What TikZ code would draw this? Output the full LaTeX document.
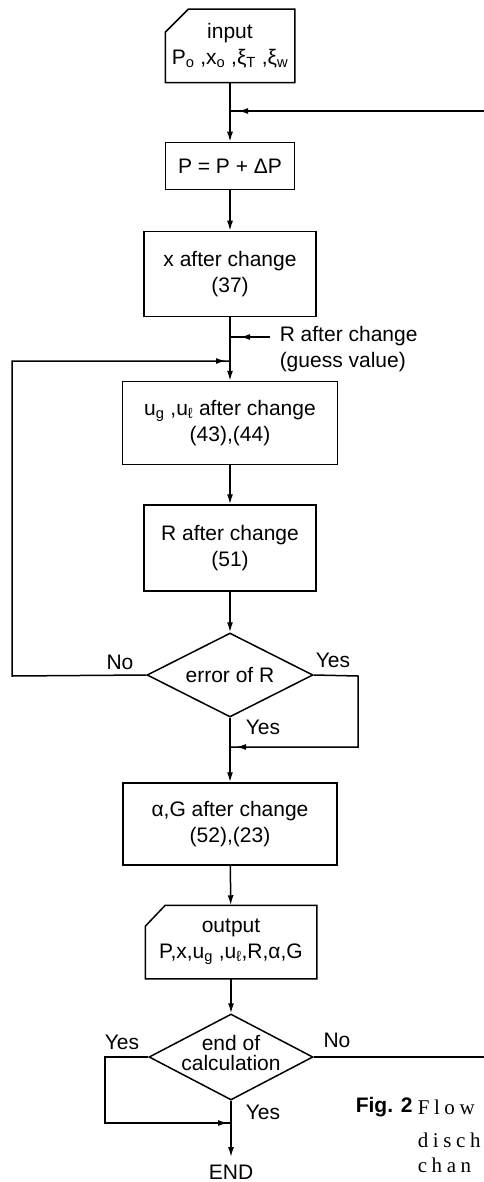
\documentclass[tikz,border=0pt]{standalone}
\usepackage{fontspec}
\setmainfont{Liberation Sans}
\newfontfamily\capserif[LetterSpace=22]{Liberation Serif}
\usetikzlibrary{arrows.meta,shapes.geometric,decorations.markings}

\begin{document}
\begin{tikzpicture}[x=1pt, y=-1pt, >={Latex[length=10pt,width=6pt]},
    line width=1.5pt,
    font=\fontsize{21}{26}\selectfont,
    box/.style={draw, rectangle, align=center, inner sep=0pt},
    iobox/.style={align=center, inner sep=0pt},
    test/.style={draw, diamond, inner sep=0pt},
    tag/.style={inner sep=0pt},
    tipat/.style={postaction={decorate},
        decoration={markings, mark=at position #1 with {\arrow{>}}}}]
    \clip (0,0) rectangle (484,1182);

    % input and step of P
    \node[iobox, minimum width=128pt, minimum height=72pt] (in) at (230,46)
        {input\\P\textsubscript{o} ,x\textsubscript{o} ,ξ\textsubscript{T} ,ξ\textsubscript{w}};
    \draw (in.south west) -- ([yshift=-23pt]in.north west) -- ([xshift=23pt]in.north west)
        -- (in.north east) -- (in.south east) -- cycle;
    \coordinate (j0) at (230,111);
    \node[box, minimum width=129pt, minimum height=47pt] (pp) at (230,166) {P = P + ΔP};
    \node[box, minimum width=172pt, minimum height=85pt] (xb) at (230,274) {x after change\\(37)};

    % inner loop on R
    \coordinate (j1) at (230,337);
    \coordinate (j2) at (230,361);
    \coordinate (gs) at (270,337);
    \node[tag, anchor=west, align=left] (gtxt) at (279,349) {R after change\\(guess value)};
    \node[box, minimum width=215pt, minimum height=83pt] (ug) at (230,423)
        {u\textsubscript{g} ,u\textsubscript{ℓ} after change\\(43),(44)};
    \node[box, minimum width=172pt, minimum height=86pt] (rb) at (230,548) {R after change\\(51)};
    \node[test, minimum width=166pt, minimum height=84pt] (err) at (230,675) {};
    \node[tag] (errtxt) at (err) {error of R};
    \node[tag] (no1) at (120,662) {No};
    \node[tag] (yes1) at (333,660) {Yes};
    \node[tag] (yes2) at (263,727) {Yes};
    \coordinate (el) at (12,676);
    \coordinate (er) at (358,676);
    \coordinate (j3) at (230,747);

    % results
    \node[box, minimum width=214pt, minimum height=82pt] (ag) at (230,824)
        {α,G after change\\(52),(23)};
    \node[iobox, minimum width=170pt, minimum height=72pt] (out) at (231,942)
        {output\\P,x,u\textsubscript{g} ,u\textsubscript{ℓ},R,α,G};
    \draw (out.south west) -- ([yshift=-21pt]out.north west) -- ([xshift=20pt]out.north west)
        -- (out.north east) -- (out.south east) -- cycle;
    \node[test, minimum width=164pt, minimum height=86pt] (calc) at (231,1057) {};
    \node[tag, align=center, font=\fontsize{21}{20}\selectfont] (calctxt) at (231,1053) {end of\\calculation};
    \node[tag] (yes3) at (122,1042) {Yes};
    \node[tag] (no2) at (337,1040) {No};
    \node[tag] (yes4) at (263,1112) {Yes};
    \coordinate (cl) at (105,1057);
    \coordinate (j4) at (231,1123);
    \coordinate (rt) at (500,111);
    \node[inner sep=7pt] (endp) at (231,1172) {END};

    % caption (cut at the edge)
    \node[tag, anchor=west, font=\fontsize{21}{26}\selectfont\bfseries] (fig) at (355,1107) {Fig. 2};
    \node[tag, anchor=west, font=\fontsize{21}{26}\capserif] (cap1) at (417,1107) {Flow};
    \node[tag, anchor=west, font=\fontsize{21}{26}\capserif] (cap2) at (417,1140) {disch};
    \node[tag, anchor=west, font=\fontsize{21}{26}\capserif] (cap3) at (417,1165) {chan};

    % connectors
    \draw (in) -- (j0);
    \draw[->] (j0) -- (pp);
    \draw[->] (pp) -- (xb);
    \draw[->] (xb) -- (ug);
    \draw[tipat=-10pt] (gs) -- (j1);
    \draw[->] (ug) -- (rb);
    \draw[->] (rb) -- (err);
    \draw[tipat=-4pt] (err.west) -- (el) -- (el |- j2) -- (j2);
    \draw[tipat=-6pt] (err.east) -- (er) -- (er |- j3) -- (j3);
    \draw[->] (err) -- (ag);
    \draw[->] (ag) -- (out);
    \draw[->] (out) -- (calc);
    \draw[tipat=-3pt] (calc.west) -- (cl) -- (cl |- j4) -- (j4);
    \draw[->] (calc) -- (endp);
    \draw[tipat=-8pt] (calc.east) -- (calc.east -| rt) -- (rt) -- (j0);
\end{tikzpicture}
\end{document}
